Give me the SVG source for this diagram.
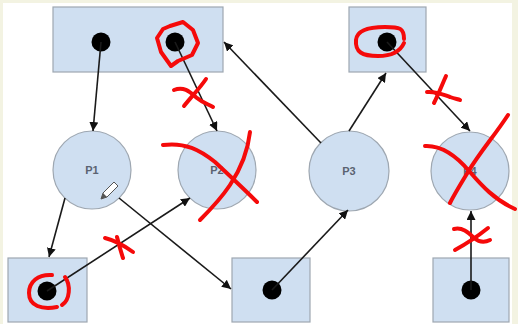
<svg xmlns="http://www.w3.org/2000/svg" width="518" height="324" viewBox="0 0 518 324">
<defs>
<marker id="ah" viewBox="0 0 10 10" refX="10" refY="5" markerWidth="9" markerHeight="9" markerUnits="userSpaceOnUse" orient="auto">
<path d="M0,0 L10,5 L0,10 Z" fill="#111"/>
</marker>
<style>
.box{fill:#cfdff1;stroke:#9ea7b1;stroke-width:1.2}
.proc{fill:#cfdff1;stroke:#9ea7b1;stroke-width:1.2}
.dot{fill:#000}
.lbl{font-family:"Liberation Sans",Arial,sans-serif;font-size:11px;font-weight:bold;fill:#5b6372;text-anchor:middle}
.edge{stroke:#1a1a1a;stroke-width:1.6;fill:none;marker-end:url(#ah)}
.red{stroke:#f50a0a;stroke-width:4;fill:none;stroke-linecap:round;stroke-linejoin:round}
</style>
</defs>
<rect x="0" y="0" width="518" height="324" fill="#f3f3e2"/>
<rect x="3" y="3" width="509" height="321" fill="#ffffff"/>

<g id="R1"><rect class="box" x="53" y="7" width="170" height="65"/><circle class="dot" cx="101" cy="42" r="9.5"/><circle class="dot" cx="175" cy="42" r="9.5"/></g>
<g id="R2"><rect class="box" x="349" y="7" width="77" height="65"/><circle class="dot" cx="387" cy="42" r="9.5"/></g>
<g id="R3"><rect class="box" x="8" y="258" width="79" height="64"/><circle class="dot" cx="47" cy="291" r="9.5"/></g>
<g id="R4"><rect class="box" x="232" y="258" width="78" height="64"/><circle class="dot" cx="272" cy="290" r="9.5"/></g>
<g id="R5"><rect class="box" x="433" y="258" width="76" height="64"/><circle class="dot" cx="471" cy="290" r="9.5"/></g>

<g id="P1"><circle class="proc" cx="92" cy="170" r="39"/><text class="lbl" x="92" y="174">P1</text></g>
<g id="P2"><circle class="proc" cx="217" cy="170" r="39"/><text class="lbl" x="217" y="174">P2</text></g>
<g id="P3"><circle class="proc" cx="349" cy="171" r="40"/><text class="lbl" x="349" y="175">P3</text></g>
<g id="P4"><circle class="proc" cx="470" cy="171" r="39"/><text class="lbl" x="470" y="175">P4</text></g>

<g id="connectors">
<line class="edge" x1="101" y1="42" x2="93" y2="131"/>
<line class="edge" x1="175" y1="42" x2="217" y2="131"/>
<line class="edge" x1="321" y1="143" x2="224" y2="42"/>
<line class="edge" x1="349" y1="131" x2="386" y2="73"/>
<line class="edge" x1="387" y1="42" x2="470" y2="131"/>
<line class="edge" x1="65" y1="198" x2="49" y2="257"/>
<line class="edge" x1="47" y1="291" x2="190" y2="198"/>
<line class="edge" x1="119" y1="198" x2="231" y2="289"/>
<line class="edge" x1="272" y1="290" x2="348" y2="210"/>
<line class="edge" x1="471" y1="290" x2="471" y2="211"/>
</g>

<g id="pencil">
<path d="M101,199 L103,193 L114,182 L118,186 L107,197 Z" fill="#fff" stroke="#555" stroke-width="1"/>
<path d="M101,199 L103,193 L107,197 Z" fill="#555"/>
</g>

<g id="annotations">
<path class="red" d="M170,26 L183,22 L193,30 L198,43 L192,55 L178,61 L171,66 L161,52 L157,38 L163,29 Z"/>
<path class="red" d="M206,79 C200,88 192,96 184,106"/>
<path class="red" d="M174,90 C184,86 190,92 197,98 C203,103 208,104 213,107"/>
<path class="red" d="M163,145 C185,142 200,150 215,162 C230,176 245,190 257,202"/>
<path class="red" d="M250,132 C248,150 240,170 230,185 C220,200 210,210 200,220"/>
<path class="red" d="M404,39 C404,28 400,27 385,27 C370,27 357,30 356,40 C355,52 362,56 378,56 C392,56 400,52 404,43"/>
<path class="red" d="M446,76 C442,85 438,95 434,103"/>
<path class="red" d="M427,92 C436,91 444,95 450,97 C455,99 458,99 460,100"/>
<path class="red" d="M425,146 C445,145 460,160 470,172 C482,186 495,200 515,209"/>
<path class="red" d="M508,115 C495,135 480,152 468,172 C460,185 454,195 450,203"/>
<path class="red" d="M454,229 C462,227 468,232 474,238 C480,243 486,242 490,240"/>
<path class="red" d="M488,228 C478,236 466,244 455,250"/>
<path class="red" d="M117,237 C119,245 121,252 123,258"/>
<path class="red" d="M105,238 C113,240 122,244 133,252"/>
<path class="red" d="M65,277 C71,285 70,300 62,305"/>
<path class="red" d="M57,307 C42,310 29,306 29,293 C29,282 38,274 52,275"/>
</g>
</svg>
